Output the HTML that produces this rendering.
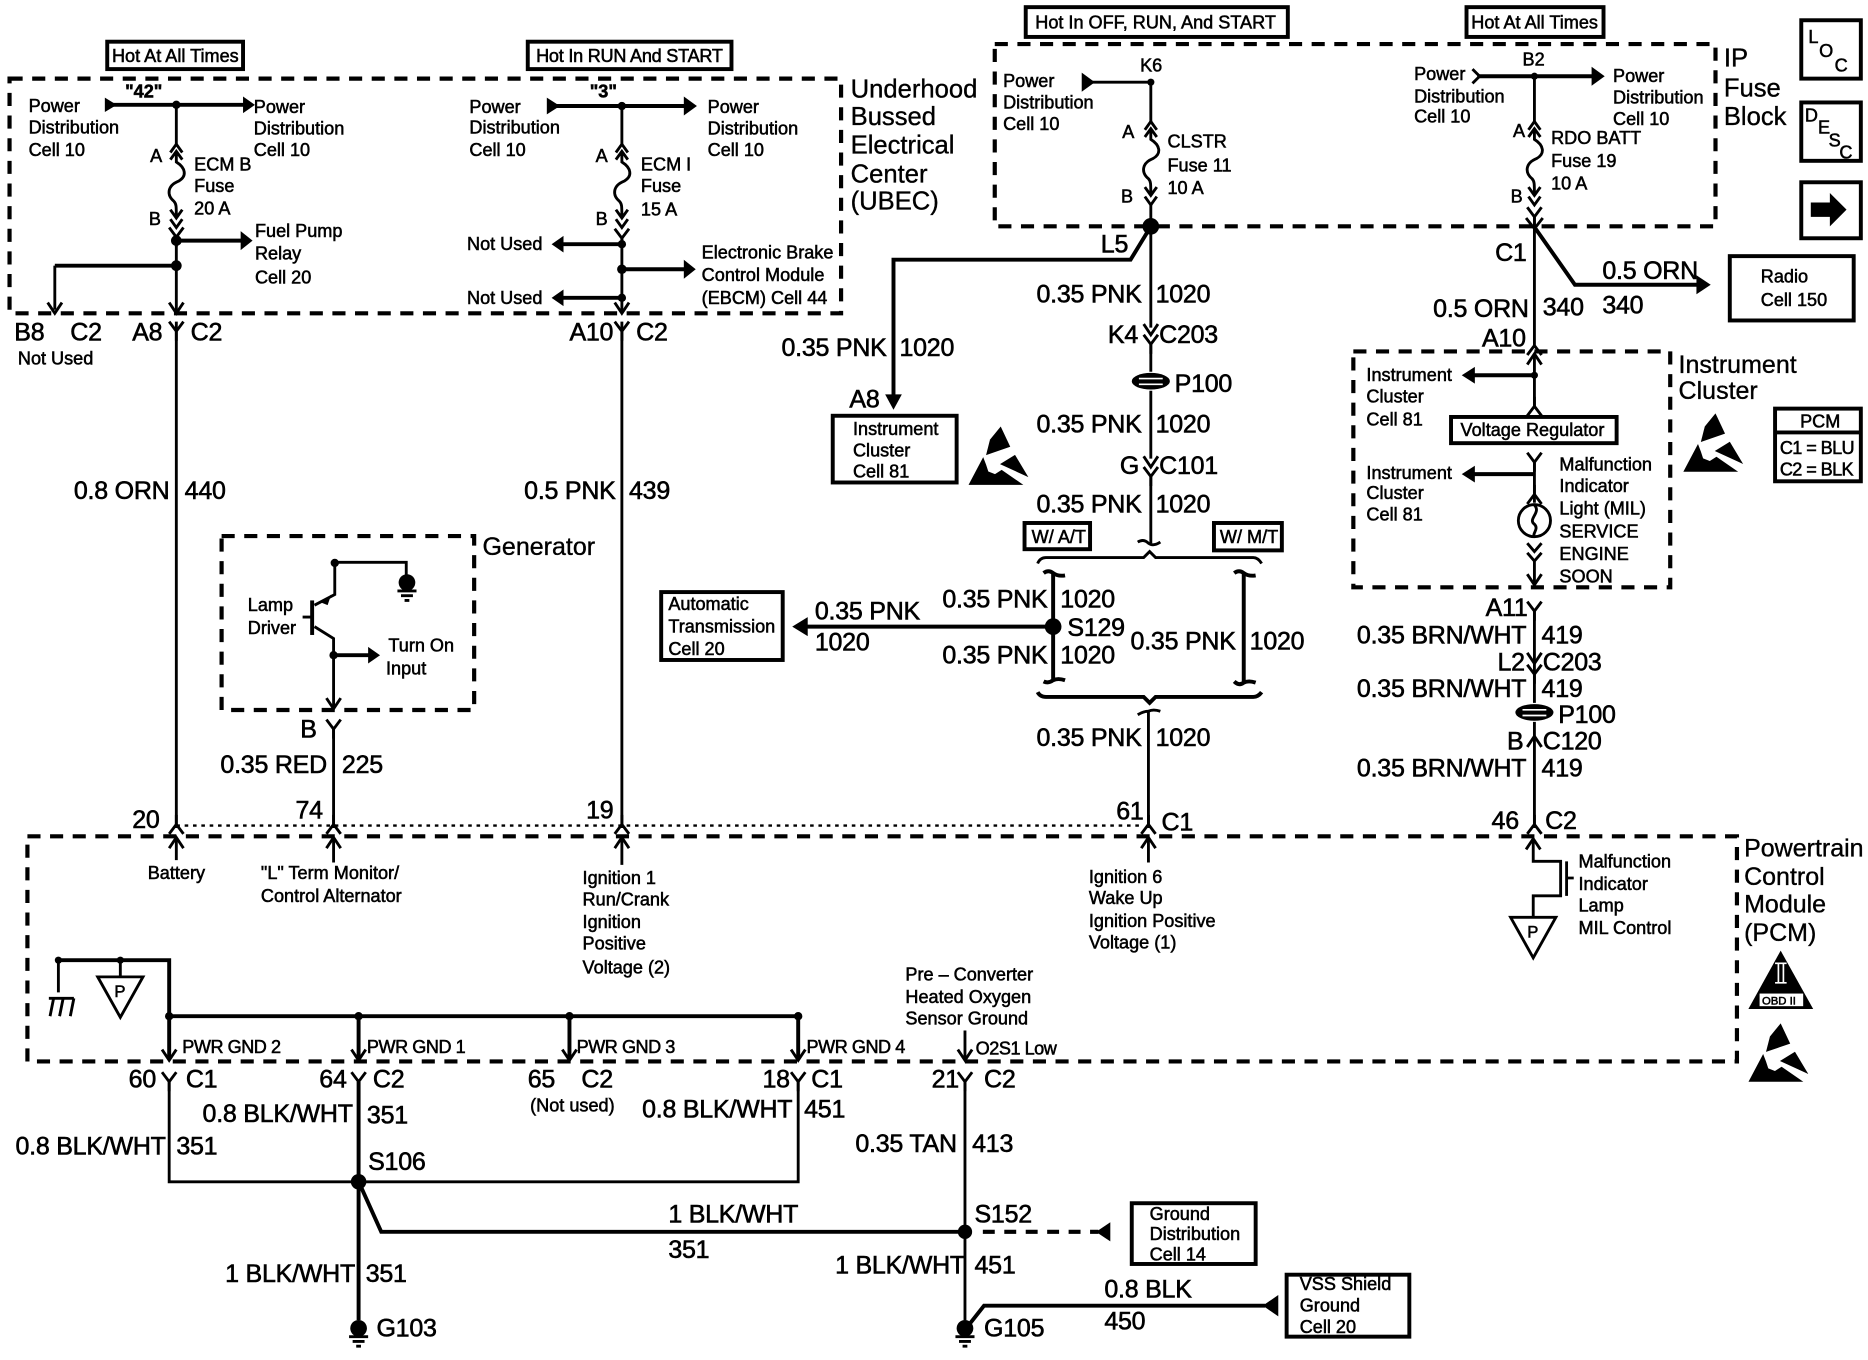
<!DOCTYPE html>
<html><head><meta charset="utf-8"><style>
html,body{margin:0;padding:0;background:#fff;width:1868px;height:1360px;overflow:hidden}
svg{display:block}
text{font-family:"Liberation Sans",sans-serif;fill:#000;stroke:#000;stroke-width:.45}
.s{font-size:15.2px}
.p{font-size:15.2px;letter-spacing:-.4px}
.m{font-size:21px;letter-spacing:-.2px;stroke-width:.5}
.l{font-size:21.5px;stroke-width:.3}
.w{fill:none;stroke:#000;stroke-width:2.4}
.t{fill:none;stroke:#000;stroke-width:3.3}
.d{fill:none;stroke:#000;stroke-width:3.5;stroke-dasharray:11 8}
.h{fill:#000;stroke:none}
</style></head><body>
<svg width="1868" height="1360" viewBox="0 0 1568 1141.6" xmlns="http://www.w3.org/2000/svg">
<defs>
<g id="fuse"><path class="w" d="M-5 7L0 0L5 7M-5 13L0 6L5 13M0 6V15C8 20 9 27 2 31C-8 35-8 43-2 48C0 50 0 52 0 62M-5 55L0 62L5 55M-5 63L0 70L5 63"/></g>
<path id="vy" class="w" d="M-6 -8L0 0L6 -8M0 0V8"/>
<path id="vu" class="w" d="M-6 8L0 0L6 8M0 0V-8"/>
<path id="au" class="w" d="M-6 9L0 0L6 9"/>
<path id="ad" class="w" d="M-6 -9L0 0L6 -9"/>
<g id="gnd"><circle class="h" cx="0" cy="2" r="7"/><path class="w" d="M-8 9H8M-5 13H5M-2 17H2"/></g>
<g id="p100"><ellipse class="h" cx="0" cy="0" rx="16" ry="7"/><path d="M-10 -2.2H10M-10 2.6H10" stroke="#fff" stroke-width="1.4" fill="none"/></g>
<g id="ptri"><path class="w" d="M-19 0H19L0 34Z"/><text x="-5" y="17" style="font-size:14px">P</text></g>
<g id="esd"><path class="h" d="M0 0L8 17L-12.3 24L-9 11Z"/><path class="h" d="M-14.7 25.7L-27 49H19L.8 36.4L-4.8 40L-10.4 37.8L-12.3 32Z"/><path class="h" d="M12 23.8L23.2 42.5L-.6 31.6Z"/></g>
</defs>

<!-- header boxes -->
<rect class="t" x="90" y="35" width="114" height="23"/>
<rect class="t" x="443" y="35" width="171" height="23"/>
<rect class="t" x="861" y="6" width="220" height="25"/>
<rect class="t" x="1231" y="6" width="115" height="25"/>
<text class="s" x="94" y="52">Hot At All Times</text>
<text class="s" x="450" y="52" style="letter-spacing:-.2px">Hot In RUN And START</text>
<text class="s" x="869" y="24">Hot In OFF, RUN, And START</text>
<text class="s" x="1235" y="24">Hot At All Times</text>

<!-- dashed boxes -->
<rect class="d" x="8" y="66" width="698" height="197"/>
<rect class="d" x="835" y="37" width="605" height="153"/>
<rect class="d" x="186" y="450" width="212" height="146"/>
<rect class="d" x="1136" y="295" width="266" height="198"/>
<rect class="d" x="23" y="702" width="1435" height="189"/>
<path d="M148 693H960" fill="none" stroke="#000" stroke-width="2" stroke-dasharray="3 4"/>

<!-- UBEC left -->
<path class="t" d="M95 88H205"/><path class="h" d="M88 82L98 88L88 94ZM204 81L214 88L204 95Z"/>
<path class="w" d="M148 88V121"/><circle class="h" cx="148" cy="88" r="3.5"/>
<use href="#fuse" x="148" y="121"/>
<use href="#vy" x="148" y="199"/>
<path class="w" d="M148 199V262M148 270V695"/>
<circle class="h" cx="148" cy="202" r="4.5"/><circle class="h" cx="148" cy="223" r="4.5"/>
<path class="t" d="M148 202H203M148 223H46"/><path class="w" d="M46 223V260"/>
<path class="h" d="M202 194L212 202L202 210Z"/>
<use href="#ad" x="46" y="263"/><use href="#ad" x="148" y="263"/>
<use href="#vy" x="148" y="278"/>
<use href="#vu" x="148" y="692"/>
<text class="s" x="24" y="94">Power</text><text class="s" x="24" y="112">Distribution</text><text class="s" x="24" y="131">Cell 10</text>
<text class="s" x="213" y="95">Power</text><text class="s" x="213" y="113">Distribution</text><text class="s" x="213" y="131">Cell 10</text>
<text class="s" x="105" y="82" style="font-weight:bold">"42"</text>
<text class="s" x="126" y="136">A</text><text class="s" x="125" y="189">B</text>
<text class="s" x="163" y="143">ECM B</text><text class="s" x="163" y="161">Fuse</text><text class="s" x="163" y="180">20 A</text>
<text class="s" x="214" y="199">Fuel Pump</text><text class="s" x="214" y="218">Relay</text><text class="s" x="214" y="238">Cell 20</text>
<text class="m" x="12" y="286">B8</text><text class="m" x="59" y="286">C2</text><text class="m" x="111" y="286">A8</text><text class="m" x="160" y="286">C2</text>
<text class="s" x="15" y="306">Not Used</text>

<!-- UBEC right -->
<path class="t" d="M465 89H575"/><path class="h" d="M459 82L470 89L459 96ZM574 81L585 89L574 97Z"/>
<path class="w" d="M522 89V121"/><circle class="h" cx="522" cy="89" r="3.5"/>
<use href="#fuse" x="522" y="121"/>
<use href="#vy" x="522" y="200"/>
<path class="w" d="M522 200V262M522 270V695"/>
<circle class="h" cx="522" cy="205" r="3.5"/><circle class="h" cx="522" cy="226" r="4"/><circle class="h" cx="522" cy="250" r="3.5"/>
<path class="t" d="M522 205H470M522 226H575M522 250H470"/>
<path class="h" d="M473 198L463 205L473 212ZM574 218L584 226L574 234ZM473 243L463 250L473 257Z"/>
<use href="#ad" x="522" y="263"/><use href="#vy" x="522" y="278"/><use href="#vu" x="522" y="692"/>
<text class="s" x="394" y="95">Power</text><text class="s" x="394" y="112">Distribution</text><text class="s" x="394" y="131">Cell 10</text>
<text class="s" x="594" y="95">Power</text><text class="s" x="594" y="113">Distribution</text><text class="s" x="594" y="131">Cell 10</text>
<text class="s" x="495" y="82" style="font-weight:bold">"3"</text>
<text class="s" x="500" y="136">A</text><text class="s" x="500" y="189">B</text>
<text class="s" x="538" y="143">ECM I</text><text class="s" x="538" y="161">Fuse</text><text class="s" x="538" y="181">15 A</text>
<text class="s" x="392" y="210">Not Used</text><text class="s" x="392" y="255">Not Used</text>
<text class="s" x="589" y="217">Electronic Brake</text><text class="s" x="589" y="236">Control Module</text><text class="s" x="589" y="255">(EBCM) Cell 44</text>
<text class="m" x="478" y="286">A10</text><text class="m" x="534" y="286">C2</text>
<text class="l" x="714" y="82">Underhood</text><text class="l" x="714" y="105">Bussed</text><text class="l" x="714" y="129">Electrical</text><text class="l" x="714" y="153">Center</text><text class="l" x="714" y="176">(UBEC)</text>

<!-- left wire labels -->
<text class="m" x="62" y="419">0.8 ORN</text><text class="m" x="155" y="419">440</text>
<text class="m" x="440" y="419">0.5 PNK</text><text class="m" x="528" y="419">439</text>

<!-- Generator -->
<text class="l" x="405" y="466" style="font-size:21px">Generator</text>
<text class="s" x="208" y="513">Lamp</text><text class="s" x="208" y="532">Driver</text>
<path class="t" d="M262 504V533"/>
<path class="w" d="M254 518H262M264 508L281 499V472H341V483M264 526L280 536V550"/>
<path class="h" d="M270 506L278 499L275 508Z"/>
<circle class="h" cx="281" cy="472.5" r="3.5"/>
<use href="#gnd" x="341.6" y="487"/>
<circle class="h" cx="280" cy="550" r="3.5"/>
<path class="w" d="M280 550V594M280 610V695"/><path class="t" d="M280 550H312"/><path class="h" d="M309 543L319 550L309 557Z"/>
<use href="#ad" x="280" y="595"/><use href="#vy" x="280" y="612"/><use href="#vu" x="280" y="692"/>
<text class="s" x="326" y="547">Turn On</text><text class="s" x="324" y="566">Input</text>
<text class="m" x="252" y="619">B</text>
<text class="m" x="185" y="649">0.35 RED</text><text class="m" x="287" y="649">225</text>
<text class="m" x="111" y="695">20</text><text class="m" x="248" y="687">74</text><text class="m" x="492" y="687">19</text>

<!-- Middle column -->
<path class="w" d="M912 69H966V102"/><path class="h" d="M908 61L919 69L908 77Z"/><circle class="h" cx="966" cy="69" r="3"/>
<use href="#fuse" x="966" y="102"/>
<path class="w" d="M966 172V275M966 288V312M966 328V385M966 398V456"/>
<circle class="h" cx="966" cy="190" r="7"/>
<path class="t" d="M963 195L949 218H750V332"/>
<path class="h" d="M743 331L750 344L757 331Z"/>
<text class="s" x="842" y="73">Power</text><text class="s" x="842" y="91">Distribution</text><text class="s" x="842" y="109">Cell 10</text>
<text class="s" x="957" y="60">K6</text>
<text class="s" x="942" y="116">A</text><text class="s" x="941" y="170">B</text>
<text class="s" x="980" y="124">CLSTR</text><text class="s" x="980" y="144">Fuse 11</text><text class="s" x="980" y="163">10 A</text>
<text class="m" x="924" y="212">L5</text>
<text class="m" x="870" y="254">0.35 PNK</text><text class="m" x="970" y="254">1020</text>
<text class="m" x="656" y="299">0.35 PNK</text><text class="m" x="755" y="299">1020</text>
<text class="m" x="713" y="342">A8</text>
<text class="m" x="930" y="288">K4</text><text class="m" x="973" y="288">C203</text>
<use href="#ad" x="966" y="281"/><use href="#vy" x="966" y="289"/>
<use href="#p100" x="966" y="320"/><text class="m" x="986" y="329">P100</text>
<text class="m" x="870" y="363">0.35 PNK</text><text class="m" x="970" y="363">1020</text>
<text class="m" x="940" y="398">G</text><text class="m" x="973" y="398">C101</text>
<use href="#ad" x="966" y="392"/><use href="#vy" x="966" y="400"/>
<text class="m" x="870" y="430">0.35 PNK</text><text class="m" x="970" y="430">1020</text>
<rect class="t" x="860" y="439" width="55" height="22"/><rect class="t" x="1019" y="439" width="57" height="23"/>
<text class="s" x="866" y="456">W/ A/T</text><text class="s" x="1024" y="456">W/ M/T</text>
<path class="w" d="M955 455Q960 452 964 456Q968 459 974 455"/>
<path class="w" d="M871 473Q873 468 878 468H960L965 463L970 468H1052Q1056 468 1059 473"/>
<path class="t" d="M876 481Q880 478 884 481Q888 484 894 483M884 481V571M876 572Q880 574 884 571Q888 569 894 571"/>
<path class="t" d="M1036 481Q1040 478 1044 481Q1048 484 1054 483M1044 481V573M1036 572Q1040 576 1044 573Q1048 571 1054 573"/>
<path class="t" d="M871 581Q873 585 878 585H960L965 590L970 585H1052Q1056 585 1059 581"/>
<path class="w" d="M955 600Q960 597 964 597Q968 595 974 597M964 597V695"/>
<circle class="h" cx="884" cy="526" r="7"/>
<path class="t" d="M884 526H676"/><path class="h" d="M678 518L665 526L678 534Z"/>
<text class="m" x="791" y="510">0.35 PNK</text><text class="m" x="890" y="510">1020</text>
<text class="m" x="791" y="557">0.35 PNK</text><text class="m" x="890" y="557">1020</text>
<text class="m" x="896" y="534">S129</text>
<text class="m" x="949" y="545">0.35 PNK</text><text class="m" x="1049" y="545">1020</text>
<text class="m" x="684" y="520">0.35 PNK</text><text class="m" x="684" y="546">1020</text>
<rect class="t" x="555" y="497" width="102" height="57"/>
<text class="s" x="561" y="512">Automatic</text><text class="s" x="561" y="531">Transmission</text><text class="s" x="561" y="550">Cell 20</text>
<rect class="t" x="699" y="349" width="104" height="56"/>
<text class="s" x="716" y="365">Instrument</text><text class="s" x="716" y="383">Cluster</text><text class="s" x="716" y="401">Cell 81</text>
<use href="#esd" x="840" y="358"/>
<text class="m" x="870" y="626">0.35 PNK</text><text class="m" x="970" y="626">1020</text>
<text class="m" x="937" y="688">61</text><text class="m" x="975" y="697">C1</text>
<use href="#vu" x="964" y="692"/>

<!-- Right column -->
<path class="t" d="M1240 64H1337"/><path class="h" d="M1336 56L1347 64L1336 72Z"/><path class="w" d="M1236 58L1242 64L1236 70"/>
<circle class="h" cx="1288" cy="64" r="3"/><path class="w" d="M1288 64V102"/>
<use href="#fuse" x="1288" y="102"/>
<use href="#vy" x="1288" y="182"/>
<path class="w" d="M1288 182V282"/><path class="w" d="M1281 183L1288 192L1295 183"/>
<path class="t" d="M1289 192L1322 239H1425"/><path class="h" d="M1424 231L1436 239L1424 247Z"/>
<text class="s" x="1187" y="67">Power</text><text class="s" x="1187" y="86">Distribution</text><text class="s" x="1187" y="103">Cell 10</text>
<text class="s" x="1354" y="69">Power</text><text class="s" x="1354" y="87">Distribution</text><text class="s" x="1354" y="105">Cell 10</text>
<text class="s" x="1278" y="55">B2</text>
<text class="s" x="1270" y="115">A</text><text class="s" x="1268" y="170">B</text>
<text class="s" x="1302" y="121">RDO BATT</text><text class="s" x="1302" y="140">Fuse 19</text><text class="s" x="1302" y="159">10 A</text>
<text class="l" x="1447" y="56">IP</text><text class="l" x="1447" y="81">Fuse</text><text class="l" x="1447" y="105">Block</text>
<text class="m" x="1255" y="219">C1</text>
<text class="m" x="1345" y="234">0.5 ORN</text><text class="m" x="1345" y="263">340</text>
<text class="m" x="1203" y="266">0.5 ORN</text><text class="m" x="1295" y="265">340</text>
<text class="m" x="1244" y="291">A10</text>
<rect class="t" x="1452" y="215" width="104" height="54"/>
<text class="s" x="1478" y="237">Radio</text><text class="s" x="1478" y="257">Cell 150</text>
<use href="#vu" x="1288" y="290"/>
<path class="w" d="M1288 298V341"/><use href="#au" x="1288" y="297"/><use href="#vu" x="1288" y="341"/>
<circle class="h" cx="1288" cy="315" r="3"/>
<path class="t" d="M1288 315H1236M1288 398H1236"/><path class="h" d="M1238 308L1227 315L1238 322ZM1238 391L1227 398L1238 405Z"/>
<text class="s" x="1147" y="320">Instrument</text><text class="s" x="1147" y="338">Cluster</text><text class="s" x="1147" y="357">Cell 81</text>
<text class="s" x="1147" y="402">Instrument</text><text class="s" x="1147" y="419">Cluster</text><text class="s" x="1147" y="437">Cell 81</text>
<rect class="t" x="1218" y="350" width="139" height="22"/>
<text class="s" x="1226" y="366">Voltage Regulator</text>
<use href="#vy" x="1288" y="388"/><path class="w" d="M1288 388V422"/><use href="#vu" x="1288" y="415"/>
<circle class="w" cx="1288" cy="437" r="13.5"/>
<path class="w" d="M1288 424C1294 430 1282 436 1288 440C1292 444 1286 448 1288 450"/>
<path class="w" d="M1282 456L1288 463L1294 456M1282 464L1288 471L1294 464M1288 471V490"/>
<use href="#ad" x="1288" y="491"/>
<text class="s" x="1309" y="395">Malfunction</text><text class="s" x="1309" y="413">Indicator</text><text class="s" x="1309" y="432">Light (MIL)</text><text class="s" x="1309" y="451">SERVICE</text><text class="s" x="1309" y="470">ENGINE</text><text class="s" x="1309" y="489">SOON</text>
<text class="l" x="1409" y="313" style="font-size:21px">Instrument</text><text class="l" x="1409" y="335" style="font-size:21px">Cluster</text>
<use href="#esd" x="1440" y="347"/>
<rect class="t" x="1490" y="343" width="72" height="61"/><path class="t" d="M1490 363H1562"/>
<text class="s" x="1511" y="359">PCM</text><text class="s" x="1494" y="381" style="letter-spacing:-.5px">C1 = BLU</text><text class="s" x="1494" y="399" style="letter-spacing:-.5px">C2 = BLK</text>
<rect class="t" x="1512" y="17" width="50" height="49"/><rect class="t" x="1512" y="86" width="50" height="49"/><rect class="t" x="1512" y="153" width="50" height="47"/>
<text class="s" x="1518" y="36">L</text><text class="s" x="1527" y="48">O</text><text class="s" x="1540" y="60">C</text>
<text class="s" x="1515" y="102">D</text><text class="s" x="1526" y="112">E</text><text class="s" x="1535" y="123">S</text><text class="s" x="1544" y="133">C</text>
<path class="h" d="M1520 170H1536V162L1550 176L1536 190V182H1520Z"/>
<use href="#vy" x="1288" y="513"/>
<path class="w" d="M1288 513V590M1288 606V695"/>
<text class="m" x="1247" y="517">A11</text>
<text class="m" x="1139" y="540">0.35 BRN/WHT</text><text class="m" x="1294" y="540">419</text>
<text class="m" x="1257" y="563">L2</text><text class="m" x="1295" y="563">C203</text>
<use href="#ad" x="1288" y="557"/><use href="#vy" x="1288" y="566"/>
<text class="m" x="1139" y="585">0.35 BRN/WHT</text><text class="m" x="1294" y="585">419</text>
<use href="#p100" x="1288" y="598"/><text class="m" x="1308" y="607">P100</text>
<text class="m" x="1265" y="629">B</text><text class="m" x="1295" y="629">C120</text>
<use href="#au" x="1288" y="618"/>
<text class="m" x="1139" y="652">0.35 BRN/WHT</text><text class="m" x="1294" y="652">419</text>
<text class="m" x="1252" y="696">46</text><text class="m" x="1297" y="696">C2</text>
<use href="#vu" x="1288" y="692"/>

<!-- PCM -->
<g>
<path class="w" d="M148 704V722M280 704V724M522 704V726M964 704V724"/>
<use href="#au" x="148" y="703"/><use href="#au" x="280" y="703"/><use href="#au" x="522" y="703"/><use href="#au" x="964" y="703"/>
<path class="w" d="M1287 706V723H1310V752H1287V770"/><path class="w" d="M1315 723V752M1315 737H1321"/><use href="#au" x="1287" y="704"/>
<use href="#ptri" x="1287" y="770"/>
</g>
<text class="s" x="124" y="738">Battery</text>
<text class="s" x="219" y="738">"L" Term Monitor/</text><text class="s" x="219" y="757">Control Alternator</text>
<text class="s" x="489" y="742">Ignition 1</text><text class="s" x="489" y="760">Run/Crank</text><text class="s" x="489" y="779">Ignition</text><text class="s" x="489" y="797">Positive</text><text class="s" x="489" y="817">Voltage (2)</text>
<text class="s" x="914" y="741">Ignition 6</text><text class="s" x="914" y="759">Wake Up</text><text class="s" x="914" y="778">Ignition Positive</text><text class="s" x="914" y="796">Voltage (1)</text>
<text class="s" x="1325" y="728">Malfunction</text><text class="s" x="1325" y="747">Indicator</text><text class="s" x="1325" y="765">Lamp</text><text class="s" x="1325" y="784">MIL Control</text>
<text class="s" x="760" y="823">Pre – Converter</text><text class="s" x="760" y="842">Heated Oxygen</text><text class="s" x="760" y="860">Sensor Ground</text>
<text class="l" x="1464" y="719" style="font-size:21px">Powertrain</text><text class="l" x="1464" y="743" style="font-size:21px">Control</text><text class="l" x="1464" y="766" style="font-size:21px">Module</text><text class="l" x="1464" y="790" style="font-size:21px">(PCM)</text>
<path class="h" d="M1494.7 798L1467.6 847H1522Z"/>
<path d="M1490 808.6H1499.7M1490 825H1499.7M1492.8 808.6V825M1497 808.6V825" stroke="#fff" stroke-width="1.4" fill="none"/>
<rect x="1477" y="834" width="36.6" height="10.6" fill="#fff"/>
<text x="1479" y="843" style="font-size:9.5px">OBD II</text>
<use href="#esd" x="1494.7" y="859"/>

<!-- grounds in PCM -->
<path class="t" d="M49 806H142V889M142 853H670V888M301 853V888M478 853V888"/>
<circle class="h" cx="49" cy="806" r="3"/><circle class="h" cx="101" cy="806" r="3"/><circle class="h" cx="142" cy="853" r="3.5"/><circle class="h" cx="301" cy="853" r="3.5"/><circle class="h" cx="478" cy="853" r="3.5"/><circle class="h" cx="670" cy="853" r="3.5"/>
<path class="w" d="M49 806V833M101 806V820M41 838H62M45 838L42 853M53 838L50 853M62 838L59 853"/>
<use href="#ptri" x="101" y="820"/>
<use href="#ad" x="142" y="890"/><use href="#ad" x="301" y="890"/><use href="#ad" x="478" y="890"/><use href="#ad" x="670" y="890"/><use href="#ad" x="810" y="890"/>
<path class="w" d="M810 865V889"/>
<text class="p" x="153" y="884">PWR GND 2</text><text class="p" x="308" y="884">PWR GND 1</text><text class="p" x="484" y="884">PWR GND 3</text><text class="p" x="677" y="884">PWR GND 4</text><text class="p" x="819" y="885">O2S1 Low</text>
<text class="m" x="108" y="913">60</text><text class="m" x="156" y="913">C1</text>
<text class="m" x="268" y="913">64</text><text class="m" x="313" y="913">C2</text>
<text class="m" x="443" y="913">65</text><text class="m" x="488" y="913">C2</text>
<text class="m" x="640" y="913">18</text><text class="m" x="681" y="913">C1</text>
<text class="m" x="782" y="913">21</text><text class="m" x="826" y="913">C2</text>
<text class="s" x="445" y="933">(Not used)</text>
<use href="#vy" x="142" y="908"/><use href="#vy" x="301" y="908"/><use href="#vy" x="670" y="908"/><use href="#vy" x="810" y="908"/>
<path class="w" d="M142 908V992H670V908"/><path class="t" d="M301 908V1108"/>
<path class="w" d="M810 908V1108"/>
<circle class="h" cx="301" cy="992" r="6.5"/><circle class="h" cx="810" cy="1034" r="6"/>
<path class="t" d="M302 994L320 1034H810"/>
<path d="M825 1034H922" fill="none" stroke="#000" stroke-width="3.5" stroke-dasharray="10 8"/><path class="h" d="M932 1026L920 1034L932 1042Z"/>
<text class="m" x="170" y="942">0.8 BLK/WHT</text><text class="m" x="308" y="943">351</text>
<text class="m" x="13" y="969">0.8 BLK/WHT</text><text class="m" x="148" y="969">351</text>
<text class="m" x="539" y="938">0.8 BLK/WHT</text><text class="m" x="675" y="938">451</text>
<text class="m" x="718" y="967">0.35 TAN</text><text class="m" x="816" y="967">413</text>
<text class="m" x="309" y="982">S106</text><text class="m" x="818" y="1026">S152</text>
<text class="m" x="561" y="1026">1 BLK/WHT</text><text class="m" x="561" y="1056">351</text>
<text class="m" x="189" y="1076">1 BLK/WHT</text><text class="m" x="307" y="1076">351</text>
<text class="m" x="701" y="1069">1 BLK/WHT</text><text class="m" x="818" y="1069">451</text>
<use href="#gnd" x="301" y="1113"/><use href="#gnd" x="810" y="1113"/>
<text class="m" x="316" y="1122">G103</text><text class="m" x="826" y="1122">G105</text>
<rect class="t" x="950" y="1010" width="104" height="51"/>
<text class="s" x="965" y="1024">Ground</text><text class="s" x="965" y="1041">Distribution</text><text class="s" x="965" y="1058">Cell 14</text>
<path class="t" d="M811 1115L826 1096H1062"/><path class="h" d="M1073 1087L1060 1096L1073 1105Z"/>
<text class="m" x="927" y="1089">0.8 BLK</text><text class="m" x="927" y="1116">450</text>
<rect class="t" x="1080" y="1070" width="103" height="52"/>
<text class="s" x="1091" y="1083">VSS Shield</text><text class="s" x="1091" y="1101">Ground</text><text class="s" x="1091" y="1119">Cell 20</text>
</svg>
</body></html>
